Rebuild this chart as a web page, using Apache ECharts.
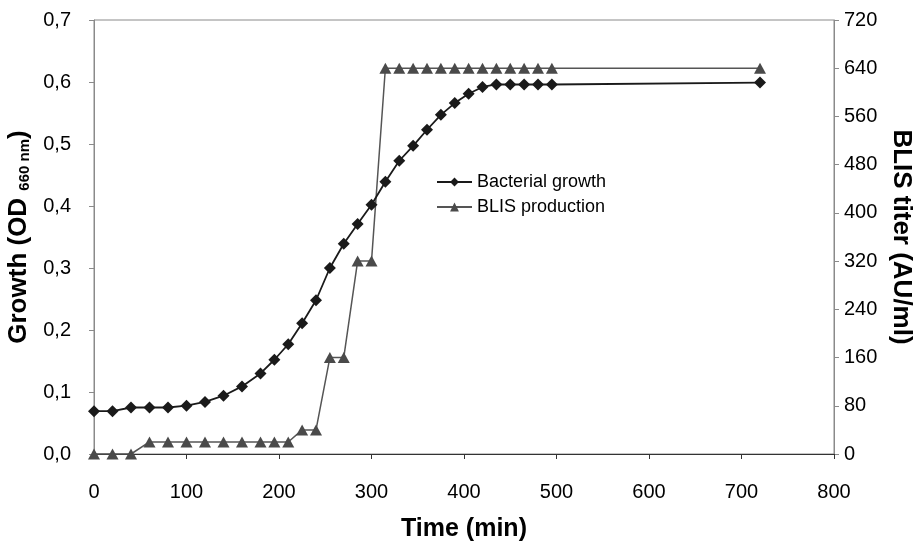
<!DOCTYPE html>
<html><head><meta charset="utf-8">
<script src="https://cdn.jsdelivr.net/npm/echarts@6/dist/echarts.min.js"></script>
<style>html,body{margin:0;padding:0;background:#fff}#c{width:920px;height:546px}</style>
</head><body><div id="c"></div>
<script>
var times = [0,20,40,60,80,100,120,140,160,180,195,210,225,240,255,270,285,300,315,330,345,360,375,390,405,420,435,450,465,480,495,720];
var growth = [0.069,0.069,0.075,0.075,0.075,0.078,0.084,0.094,0.109,0.130,0.152,0.177,0.211,0.248,0.300,0.339,0.371,0.402,0.439,0.473,0.497,0.523,0.547,0.566,0.581,0.592,0.596,0.596,0.596,0.596,0.596,0.599];
var blis = [0,0,0,20,20,20,20,20,20,20,20,20,40,40,160,160,320,320,640,640,640,640,640,640,640,640,640,640,640,640,640,640];
var seriesNames = ['Bacterial growth','BLIS production'];
var xTitle = 'Time (min)';
var rightTitle = 'BLIS titer (AU/ml)';

function pairs(xs, ys){ return xs.map(function(x,i){return [x, ys[i]];}); }
var FF = '"Liberation Sans", Arial, sans-serif';
var chart = echarts.init(document.getElementById('c'));
chart.setOption({
  animation:false,
  backgroundColor:'#fff',
  grid:{left:94,right:86,top:20,bottom:92,show:true,borderColor:'#8a8a8a',borderWidth:1,
        outerBoundsMode:'none', containLabel:false},
  legend:{
    orient:'vertical', left:431, top:168, itemWidth:35, itemHeight:11, itemGap:7,
    textStyle:{fontFamily:FF,fontSize:18,color:'#000'},
    data:seriesNames
  },
  xAxis:{
    type:'value', min:0, max:800, interval:100,
    name:xTitle, nameLocation:'middle', nameGap:63,
    nameTextStyle:{fontFamily:FF,fontSize:25,fontWeight:'bold',color:'#000'},
    axisLine:{lineStyle:{color:'#333',width:1}},
    axisTick:{show:true,length:5,lineStyle:{color:'#333'}},
    axisLabel:{margin:28,fontFamily:FF,fontSize:20,color:'#000'},
    splitLine:{show:false}
  },
  yAxis:[{
    type:'value', min:0, max:0.7, interval:0.1, position:'left',
    name:'{m|Growth (OD }{s|660 nm}{m|)}', nameLocation:'middle', nameGap:56, nameRotate:90,
    nameTextStyle:{rich:{
      m:{fontFamily:FF,fontSize:26,fontWeight:'bold',color:'#000'},
      s:{fontFamily:FF,fontSize:15,fontWeight:'bold',color:'#000',verticalAlign:'bottom',padding:[8,0,0,0]}
    }},
    axisLine:{show:true,lineStyle:{color:'#8a8a8a',width:1}},
    axisTick:{show:true,length:5,lineStyle:{color:'#8a8a8a'}},
    axisLabel:{margin:23,fontFamily:FF,fontSize:20,color:'#000',
      formatter:function(v){return v.toFixed(1).replace('.',',');}},
    splitLine:{show:false}
  },{
    type:'value', min:0, max:720, interval:80, position:'right',
    name:rightTitle, nameLocation:'middle', nameGap:54, nameRotate:-90,
    nameTextStyle:{fontFamily:FF,fontSize:26,fontWeight:'bold',color:'#000'},
    axisLine:{show:true,lineStyle:{color:'#8a8a8a',width:1}},
    axisTick:{show:true,length:5,lineStyle:{color:'#8a8a8a'}},
    axisLabel:{margin:10,fontFamily:FF,fontSize:20,color:'#000'},
    splitLine:{show:false}
  }],
  series:[{
    name:seriesNames[0], type:'line', yAxisIndex:0, data:pairs(times,growth),
    symbol:'diamond', symbolSize:[12,12], showAllSymbol:true,
    lineStyle:{color:'#1a1a1a',width:1.8},
    itemStyle:{color:'#1a1a1a'}, z:3
  },{
    name:seriesNames[1], type:'line', yAxisIndex:1, data:pairs(times,blis),
    symbol:'triangle', symbolSize:[12,11], showAllSymbol:true,
    lineStyle:{color:'#555',width:1.5},
    itemStyle:{color:'#4a4a4a'}, z:2
  }]
});
</script></body></html>
